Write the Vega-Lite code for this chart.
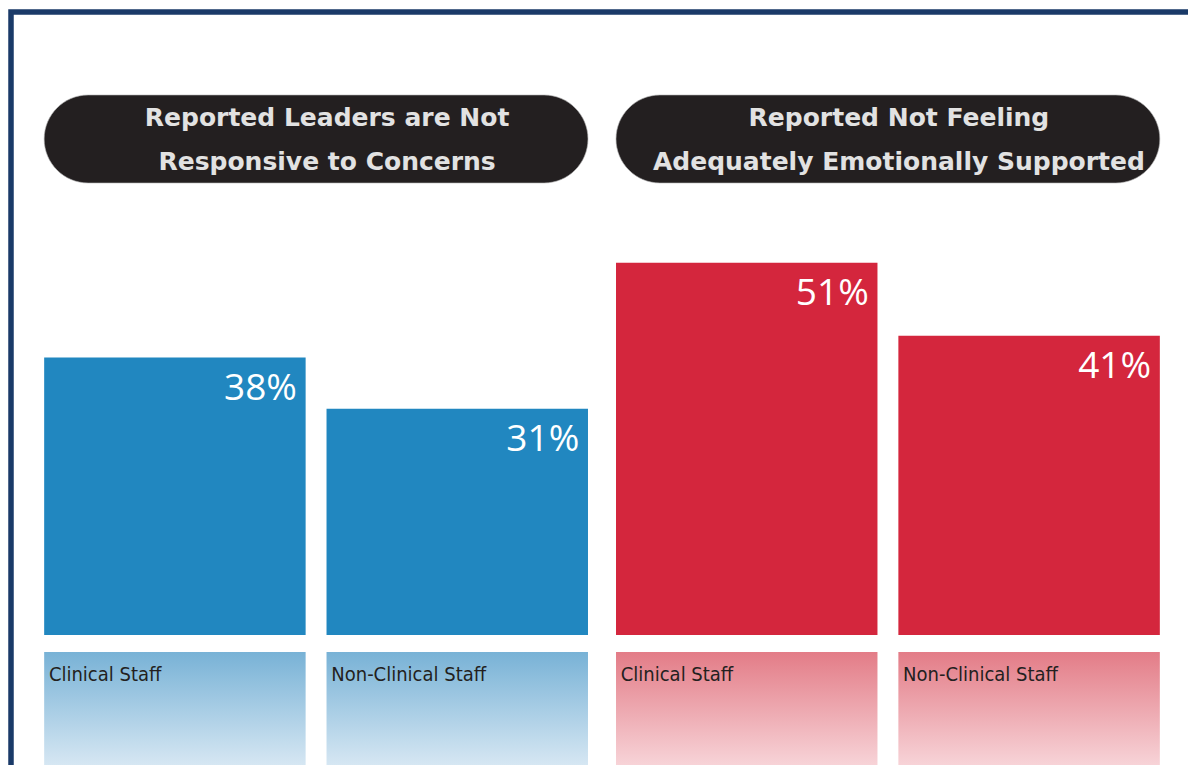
{
  "$schema": "https://vega.github.io/schema/vega-lite/v6.json",
  "width": 1188,
  "height": 765,
  "autosize": {"type": "fit", "contains": "padding"},
  "padding": {"left": 11, "top": 12, "right": -5, "bottom": -5},
  "background": "white",
  "config": {"view": {"stroke": "#1a3a68", "strokeWidth": 5.5}},
  "data": {
    "values": [
      {"group": "Reported Leaders are Not\nResponsive to Concerns", "staff": "Clinical Staff", "value": 38},
      {"group": "Reported Leaders are Not\nResponsive to Concerns", "staff": "Non-Clinical Staff", "value": 31},
      {"group": "Reported Not Feeling\nAdequately Emotionally Supported", "staff": "Clinical Staff", "value": 51},
      {"group": "Reported Not Feeling\nAdequately Emotionally Supported", "staff": "Non-Clinical Staff", "value": 41}
    ]
  },
  "encoding": {
    "x": {
      "field": "group",
      "type": "nominal",
      "scale": {
        "domain": ["Reported Leaders are Not\nResponsive to Concerns", "Reported Not Feeling\nAdequately Emotionally Supported"],
        "paddingInner": 0.049,
        "paddingOuter": 0.058
      },
      "axis": null
    }
  },
  "layer": [
    {
      "transform": [{"aggregate": [{"op": "count", "as": "n"}], "groupby": ["group"]}],
      "mark": {"type": "rect", "cornerRadius": 44, "fill": "#231f20", "stroke": "#b0b0b0", "strokeWidth": 1, "strokeOpacity": 0.6},
      "encoding": {
        "y": {"datum": 73.97, "type": "quantitative", "scale": {"domain": [-18.49, 85.34], "nice": false, "zero": false}, "axis": null},
        "y2": {"datum": 61.92}
      }
    },
    {
      "transform": [{"aggregate": [{"op": "count", "as": "n"}], "groupby": ["group"]}],
      "mark": {"type": "text", "font": "DejaVu Sans", "fontWeight": "bold", "fontSize": 25, "fill": "#e2e2e2", "lineBreak": "\n", "lineHeight": 44, "align": "center", "baseline": "middle", "dx": 11},
      "encoding": {
        "y": {"datum": 70.82, "type": "quantitative"},
        "text": {"field": "group", "type": "nominal"}
      }
    },
    {
      "mark": {"type": "bar"},
      "encoding": {
        "xOffset": {"field": "staff", "type": "nominal", "sort": ["Clinical Staff", "Non-Clinical Staff"], "scale": {"paddingInner": 0.074, "paddingOuter": 0}},
        "y": {"field": "value", "type": "quantitative"},
        "y2": {"datum": 0},
        "color": {"field": "group", "type": "nominal", "scale": {"domain": ["Reported Leaders are Not\nResponsive to Concerns", "Reported Not Feeling\nAdequately Emotionally Supported"], "range": ["#2187c0", "#d4263d"]}, "legend": null}
      }
    },
    {
      "transform": [{"calculate": "datum.value + '%'", "as": "label"}],
      "mark": {"type": "text", "font": "Open Sans", "fontSize": 37, "fill": "white", "align": "right", "baseline": "alphabetic", "dx": 122, "dy": 42},
      "encoding": {
        "xOffset": {"field": "staff", "type": "nominal", "sort": ["Clinical Staff", "Non-Clinical Staff"]},
        "y": {"field": "value", "type": "quantitative"},
        "text": {"field": "label", "type": "nominal"}
      }
    },
    {
      "transform": [{"filter": {"field": "group", "equal": "Reported Leaders are Not\nResponsive to Concerns"}}],
      "mark": {"type": "bar", "color": {"gradient": "linear", "x1": 0, "y1": 0, "x2": 0, "y2": 1, "stops": [{"offset": 0, "color": "#78b2d6"}, {"offset": 1, "color": "#dae9f4"}]}},
      "encoding": {
        "xOffset": {"field": "staff", "type": "nominal", "sort": ["Clinical Staff", "Non-Clinical Staff"]},
        "y": {"datum": -2.33, "type": "quantitative"},
        "y2": {"datum": -18.49}
      }
    },
    {
      "transform": [{"filter": {"field": "group", "equal": "Reported Not Feeling\nAdequately Emotionally Supported"}}],
      "mark": {"type": "bar", "color": {"gradient": "linear", "x1": 0, "y1": 0, "x2": 0, "y2": 1, "stops": [{"offset": 0, "color": "#e37c87"}, {"offset": 1, "color": "#f8d7db"}]}},
      "encoding": {
        "xOffset": {"field": "staff", "type": "nominal", "sort": ["Clinical Staff", "Non-Clinical Staff"]},
        "y": {"datum": -2.33, "type": "quantitative"},
        "y2": {"datum": -18.49}
      }
    },
    {
      "mark": {"type": "text", "font": "Liberation Sans Narrow, DejaVu Sans Condensed, sans-serif", "fontSize": 20, "fill": "#231f20", "align": "left", "baseline": "middle", "dx": -126},
      "encoding": {
        "xOffset": {"field": "staff", "type": "nominal", "sort": ["Clinical Staff", "Non-Clinical Staff"]},
        "y": {"datum": -5.48, "type": "quantitative"},
        "text": {"field": "staff", "type": "nominal"}
      }
    }
  ]
}
